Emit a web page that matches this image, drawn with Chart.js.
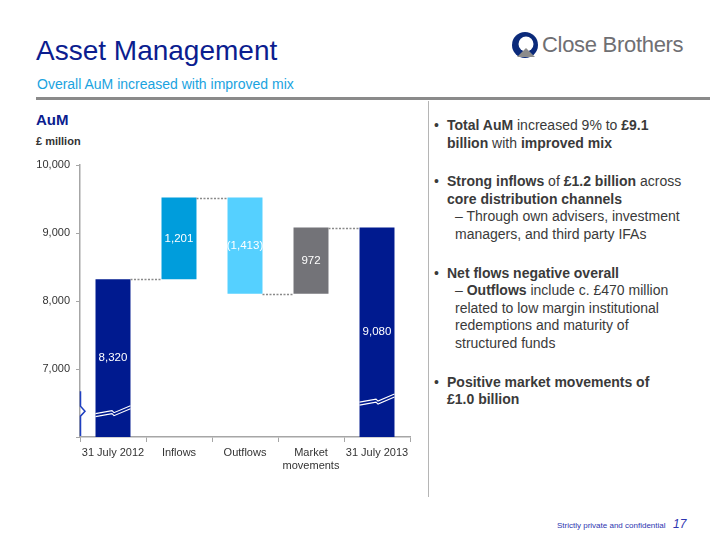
<!DOCTYPE html>
<html lang="en">
<head>
    <meta charset="UTF-8">
    <title>Asset Management</title>
    <script src="https://cdn.jsdelivr.net/npm/chart.js"></script>
    <style>
        body { margin: 0; background: #fff; font-family: Arial, "Liberation Sans", sans-serif; }
        .slide { position: relative; width: 720px; height: 540px; overflow: hidden; }
        .title { position: absolute; left: 36px; top: 35px; font-size: 28px; color: #0b1d8f; }
        .subtitle { position: absolute; left: 37px; top: 76px; font-size: 14px; color: #1aa3e0; }
        .rule { position: absolute; left: 36px; top: 97px; width: 674px; height: 3px; background: #8a8a8a; }
        .divider { position: absolute; left: 428px; top: 101px; width: 1px; height: 396px; background: #b5b5b5; }
        .logo { position: absolute; left: 511px; top: 31px; }
        .logo-text { position: absolute; left: 542px; top: 32px; font-size: 22px; color: #6f6f73; letter-spacing: -0.3px; }
        .aum { position: absolute; left: 36px; top: 111px; font-size: 15px; font-weight: bold; color: #0b1d8f; }
        .unit { position: absolute; left: 36px; top: 135px; font-size: 11px; font-weight: bold; color: #333; }
        .chart-box { position: absolute; left: 0; top: 150px; width: 420px; height: 335px; }
        .notes { position: absolute; left: 434px; top: 117px; width: 285px; font-size: 14px; line-height: 17.6px; color: #3a3a3a; white-space: nowrap; }
        .notes p { margin: 0; position: relative; }
        .notes p.b { padding-left: 13px; }
        .notes p.b::before { content: "\2022"; position: absolute; left: 0; }
        .notes p.sub { padding-left: 21px; }
        .gap { height: 21px; }
        .footer { position: absolute; left: 557px; top: 521px; font-size: 8px; color: #2d35b0; }
        .page { position: absolute; left: 673px; top: 517px; font-size: 12px; font-style: italic; color: #2d35b0; }
    </style>
</head>
<body>
<div class="slide">
    <div class="title">Asset Management</div>
    <div class="subtitle">Overall AuM increased with improved mix</div>
    <div class="rule"></div>
    <div class="divider"></div>
    <svg class="logo" width="30" height="30" viewBox="0 0 30 30">
        <circle cx="14" cy="14" r="13" fill="#0b2a7a"/>
        <circle cx="15" cy="13" r="7.5" fill="#fff"/>
        <path d="M6 26 L15 17 L24 26 Z" fill="#8c8c8c"/>
    </svg>
    <div class="logo-text">Close Brothers</div>

    <div class="aum">AuM</div>
    <div class="unit">£ million</div>
    <div class="chart-box"><canvas id="aumChart"></canvas></div>

    <div class="notes">
        <p class="b"><b>Total AuM</b> increased 9% to <b>£9.1</b><br><b>billion</b> with <b>improved mix</b></p>
        <div class="gap"></div>
        <p class="b"><b>Strong inflows</b> of <b>£1.2 billion</b> across<br><b>core distribution channels</b></p>
        <p class="sub">– Through own advisers, investment<br>managers, and third party IFAs</p>
        <div class="gap"></div>
        <p class="b"><b>Net flows negative overall</b></p>
        <p class="sub">– <b>Outflows</b> include c. £470 million<br>related to low margin institutional<br>redemptions and maturity of<br>structured funds</p>
        <div class="gap"></div>
        <p class="b"><b>Positive market movements of<br>£1.0 billion</b></p>
    </div>

    <div class="footer">Strictly private and confidential</div>
    <div class="page">17</div>
</div>
<script>
    // data
    const categories = ['31 July 2012', 'Inflows', 'Outflows', ['Market', 'movements'], '31 July 2013'];
    const openingAuM = 8320;
    const flows = [1201, -1413, 972];
    const closingAuM = 9080;
    const axisMin = 6000;
    const axisMax = 10000;
    const yTicks = [7000, 8000, 9000, 10000];
    const barColors = ['#001a8f', '#009ddc', '#55d0ff', '#737378', '#001a8f'];

    // build the floating bars of the waterfall
    const ranges = [[axisMin, openingAuM]];
    const labels = [openingAuM];
    let running = openingAuM;
    flows.forEach(f => {
        ranges.push([running, running + f]);
        labels.push(f);
        running += f;
    });
    ranges.push([axisMin, closingAuM]);
    labels.push(closingAuM);
    const levels = [openingAuM];
    running = openingAuM;
    flows.forEach(f => { running += f; levels.push(running); });

    const fmt = v => v < 0 ? '(' + Math.abs(v).toLocaleString('en-US') + ')' : v.toLocaleString('en-US');
    const font = 'Arial, "Liberation Sans", sans-serif';

    const waterfallExtras = {
        id: 'waterfallExtras',
        afterDatasetsDraw(chart) {
            const ctx = chart.ctx;
            const y = chart.scales.y;
            const bars = chart.getDatasetMeta(0).data;
            ctx.save();
            // dotted connectors
            ctx.strokeStyle = '#8a8a8a';
            ctx.lineWidth = 1.5;
            ctx.setLineDash([2, 1.5]);
            for (let i = 0; i < bars.length - 1; i++) {
                const py = Math.round(y.getPixelForValue(levels[i])) + 0.5;
                ctx.beginPath();
                ctx.moveTo(bars[i].x + bars[i].width / 2, py);
                ctx.lineTo(bars[i + 1].x - bars[i + 1].width / 2, py);
                ctx.stroke();
            }
            ctx.setLineDash([]);
            // value labels
            ctx.fillStyle = '#fff';
            ctx.font = '11.5px ' + font;
            ctx.textAlign = 'center';
            ctx.textBaseline = 'middle';
            bars.forEach((b, i) => {
                const mid = y.getPixelForValue((ranges[i][0] + ranges[i][1]) / 2);
                ctx.fillText(fmt(labels[i]), b.x, mid);
            });
            // axis break marks on the first and last bars
            [[0, 6380], [bars.length - 1, 6550]].forEach(([i, v]) => {
                const b = bars[i];
                const cy = y.getPixelForValue(v);
                const l = b.x - b.width / 2, r = b.x + b.width / 2;
                ctx.strokeStyle = '#fff';
                ctx.lineWidth = 1.1;
                [-1.5, 1.5].forEach(off => {
                    ctx.beginPath();
                    ctx.moveTo(l, cy + 4 + off);
                    ctx.lineTo(b.x - 1, cy + 1 + off);
                    ctx.lineTo(b.x + 1, cy + 3 + off);
                    ctx.lineTo(r, cy - 4 + off);
                    ctx.stroke();
                });
            });
            // axis break on y axis
            const ax = chart.chartArea.left + 0.5;
            const by = y.getPixelForValue(6380);
            ctx.strokeStyle = '#1f3fc0';
            ctx.lineWidth = 1.5;
            ctx.beginPath();
            ctx.moveTo(ax, by - 20);
            ctx.lineTo(ax, by - 5);
            ctx.lineTo(ax + 4.5, by);
            ctx.lineTo(ax, by + 5);
            ctx.lineTo(ax, y.bottom - 1);
            ctx.stroke();
            ctx.restore();
        }
    };

    const ctx = document.getElementById('aumChart').getContext('2d');
    new Chart(ctx, {
        type: 'bar',
        data: {
            labels: categories,
            datasets: [{
                data: ranges,
                backgroundColor: barColors,
                borderWidth: 0,
                barPercentage: 0.53,
                categoryPercentage: 1
            }]
        },
        options: {
            responsive: true,
            maintainAspectRatio: false,
            animation: false,
            layout: { padding: { top: 15, right: 10, left: 0, bottom: 0 } },
            plugins: {
                legend: { display: false },
                tooltip: { enabled: false }
            },
            scales: {
                x: {
                    afterFit: s => { s.height = 48; },
                    grid: { drawOnChartArea: false, tickLength: 5, color: '#a6a6a6', offset: true },
                    border: { color: '#a6a6a6', width: 1.5 },
                    ticks: {
                        color: '#333',
                        font: { size: 11, family: font },
                        padding: 4,
                        maxRotation: 0,
                        autoSkip: false
                    }
                },
                y: {
                    min: axisMin,
                    max: axisMax,
                    afterFit: s => { s.width = 80; },
                    afterBuildTicks: s => { s.ticks = [axisMin].concat(yTicks).map(v => ({ value: v })); },
                    grid: { drawOnChartArea: false, tickLength: 4, color: '#a6a6a6' },
                    border: { color: '#a6a6a6', width: 1.5 },
                    ticks: {
                        color: '#333',
                        padding: 6,
                        font: { size: 11, family: font },
                        callback: v => v === axisMin ? '' : v.toLocaleString('en-US')
                    }
                }
            }
        },
        plugins: [waterfallExtras]
    });
</script>
</body>
</html>
